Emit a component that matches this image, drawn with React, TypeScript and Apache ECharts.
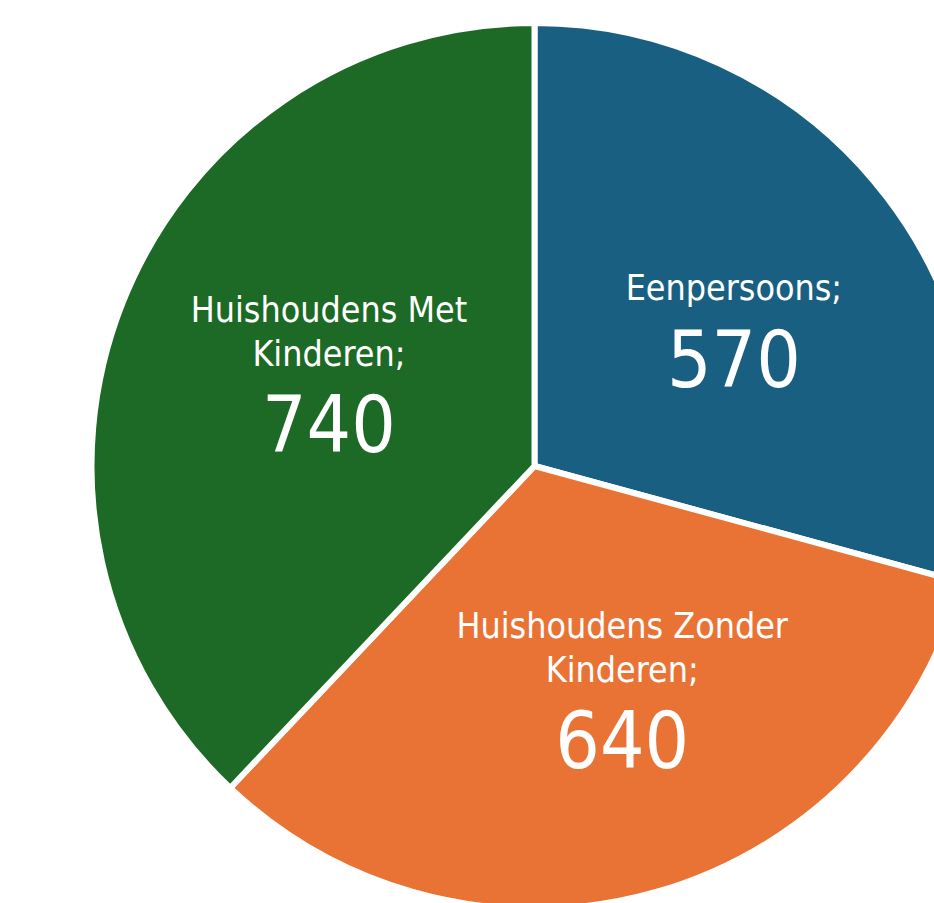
import React, { useEffect, useRef } from "react";
import * as echarts from "echarts";

const categories = ["Eenpersoons", "Huishoudens Zonder Kinderen", "Huishoudens Met Kinderen"];
const values = [570, 640, 740];
const labelLines = [["Eenpersoons;"], ["Huishoudens Zonder", "Kinderen;"], ["Huishoudens Met", "Kinderen;"]];
const colors = ["#185f82", "#e97334", "#1c6a25"];
const labelShift = [[21, 8], [27, 15], [3, -2]];

const FONT = "'DejaVu Sans Condensed', 'DejaVu Sans', sans-serif";

export default function App() {
  const ref = useRef<HTMLDivElement>(null);
  useEffect(() => {
    if (!ref.current) return;
    const chart = echarts.init(ref.current, null, { renderer: "svg" });
    chart.setOption({
      animation: false,
      backgroundColor: "#ffffff",
      series: [
        {
          type: "pie",
          center: [534.5, 466],
          radius: 443,
          startAngle: 90,
          clockwise: true,
          avoidLabelOverlap: false,
          itemStyle: { borderColor: "#ffffff", borderWidth: 6 },
          emphasis: { disabled: true },
          label: {
            show: true,
            position: "inside",
            color: "#ffffff",
            fontFamily: FONT,
            formatter: (p: any) =>
              labelLines[p.dataIndex].map((l) => `{n|${l}}`).join("\n") + `\n{v|${p.value}}`,
            rich: {
              n: { fontSize: 35.5, lineHeight: 44, color: "#ffffff", fontFamily: FONT, align: "center" },
              v: { fontSize: 78, lineHeight: 100, color: "#ffffff", fontFamily: FONT, align: "center" },
            },
          },
          labelLayout: (p: any) => ({ dx: labelShift[p.dataIndex][0], dy: labelShift[p.dataIndex][1] }),
          labelLine: { show: false },
          data: categories.map((c, i) => ({ name: c, value: values[i], itemStyle: { color: colors[i] } })),
        },
      ],
    });
    return () => chart.dispose();
  }, []);
  return (
    <div
      ref={ref}
      style={{ position: "fixed", left: 0, top: 0, width: 934, height: 903 }}
    />
  );
}
